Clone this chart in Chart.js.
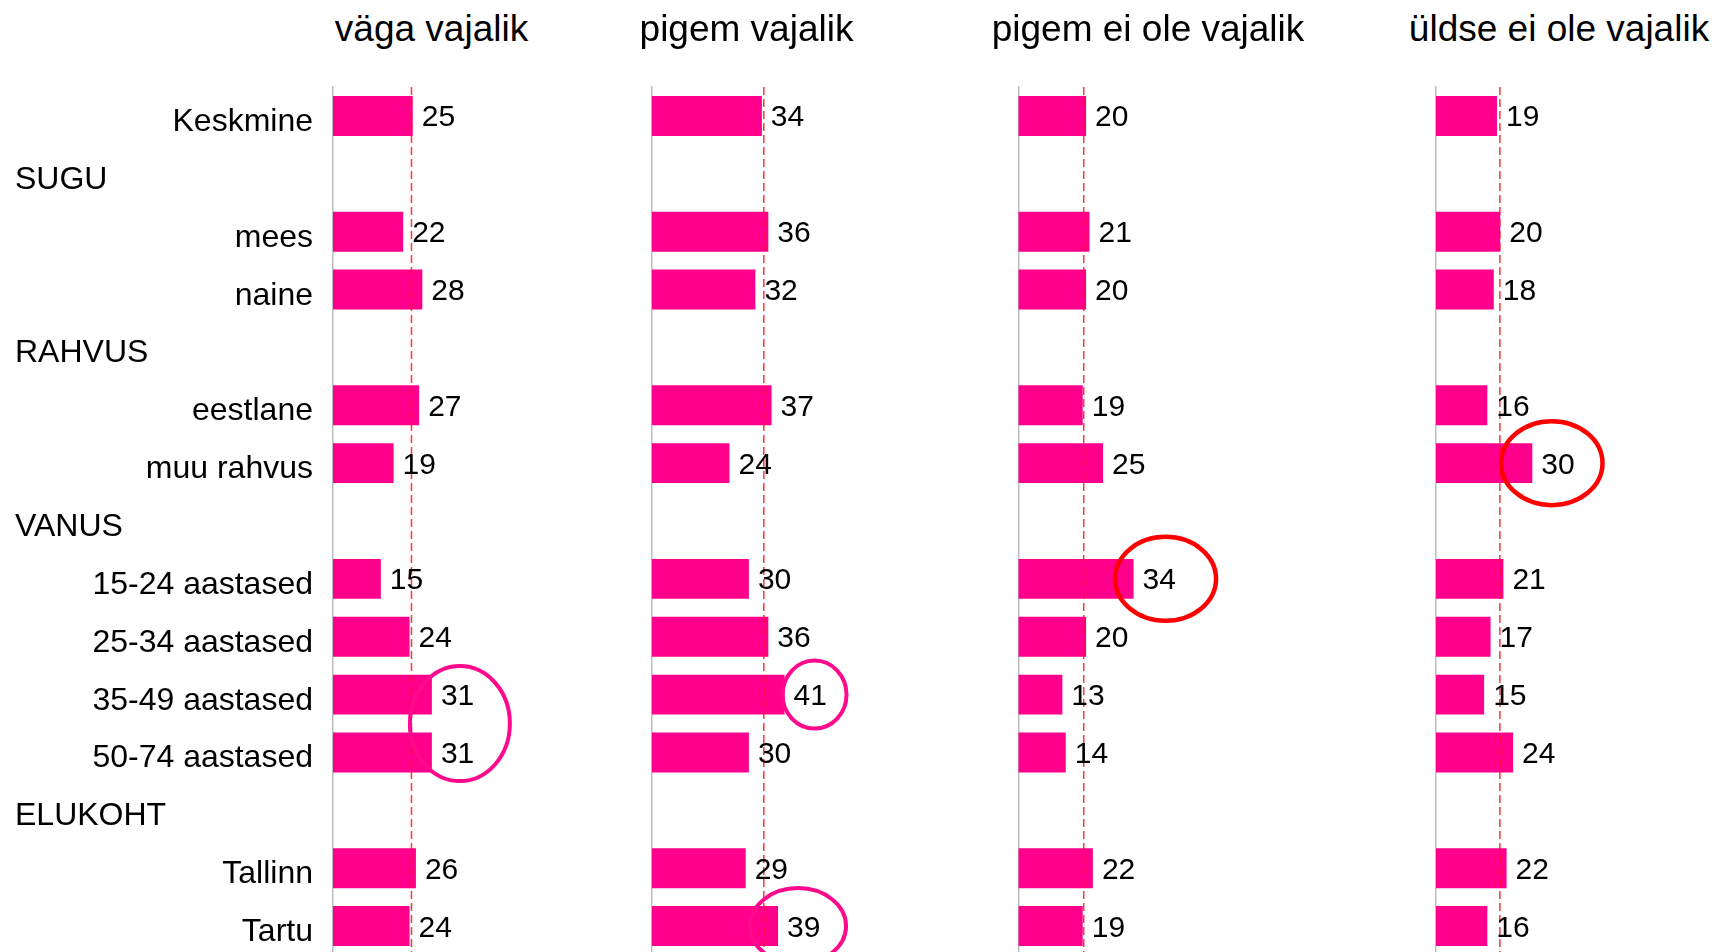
<!DOCTYPE html>
<html>
<head>
<meta charset="utf-8">
<script src="https://cdn.jsdelivr.net/npm/chart.js@4.4.1/dist/chart.umd.min.js"></script>
<style>
  html, body { margin: 0; padding: 0; background: #fff; }
  #wrap { position: relative; width: 1715px; height: 952px; overflow: hidden;
          font-family: "Liberation Sans", Arial, sans-serif; }
  #wrap canvas { position: absolute; top: 0; }
  .title { position: absolute; top: 10px; font-size: 37px; line-height: 37px;
           white-space: nowrap; transform: translateX(-50%); color: #000; }
</style>
</head>
<body>
<div id="wrap"></div>
<script>
// --- data ---
const panelTitles = ["väga vajalik", "pigem vajalik", "pigem ei ole vajalik", "üldse ei ole vajalik"];
const categories = ["Keskmine", "SUGU", "mees", "naine", "RAHVUS", "eestlane", "muu rahvus",
  "VANUS", "15-24 aastased", "25-34 aastased", "35-49 aastased", "50-74 aastased",
  "ELUKOHT", "Tallinn", "Tartu"];
const groupHeaders = ["SUGU", "RAHVUS", "VANUS", "ELUKOHT"];

const vagaVajalik     = [25, null, 22, 28, null, 27, 19, null, 15, 24, 31, 31, null, 26, 24];
const pigemVajalik    = [34, null, 36, 32, null, 37, 24, null, 30, 36, 41, 30, null, 29, 39];
const pigemEiOle      = [20, null, 21, 20, null, 19, 25, null, 34, 20, 13, 14, null, 22, 19];
const uldseEiOle      = [19, null, 20, 18, null, 16, 30, null, 21, 17, 15, 24, null, 22, 16];
const series = [vagaVajalik, pigemVajalik, pigemEiOle, uldseEiOle];

// dashed reference line (overall average) per panel
const averages = [24.6, 34.6, 19.3, 19.9];

// circled values: panel, first row, last row
const highlights = [
  { panel: 0, from: "35-49 aastased", to: "50-74 aastased", color: "#ff0a8c" },
  { panel: 1, from: "35-49 aastased", to: "35-49 aastased", color: "#ff0a8c" },
  { panel: 1, from: "Tartu", to: "Tartu", color: "#ff0a8c" },
  { panel: 2, from: "15-24 aastased", to: "15-24 aastased", color: "#ff0000" },
  { panel: 3, from: "muu rahvus", to: "muu rahvus", color: "#ff0000" }
];

// --- layout / style ---
const BAR_COLOR = "#ff008c";
const FONT = '"Liberation Sans", Arial, sans-serif';
const panels = [
  { left: 0,    width: 655, axisX: 333,    pxPerUnit: 3.19, titleX: 431.5 },
  { left: 600,  width: 400, axisX: 651.7,  pxPerUnit: 3.24, titleX: 746.5 },
  { left: 960,  width: 440, axisX: 1018.3, pxPerUnit: 3.39, titleX: 1148 },
  { left: 1380, width: 335, axisX: 1436,   pxPerUnit: 3.21, titleX: 1559 }
];
const X_MAX = 80;
const CANVAS_H = 955;
// ellipse sizes for each highlight (same order as highlights)
const ringStyle = [
  { dx: 28, rx: 50, ry: 57.5, lw: 4 },
  { dx: 30, rx: 32, ry: 34, lw: 4 },
  { dx: 20, rx: 48, ry: 38, lw: 4 },
  { dx: 32, rx: 50.5, ry: 42, lw: 4.5 },
  { dx: 19.5, rx: 50.7, ry: 42, lw: 4.5 }
];

const panelDecor = {
  id: "panelDecor",
  afterDatasetsDraw(chart, args, opts) {
    const ctx = chart.ctx;
    const xs = chart.scales.x, ys = chart.scales.y;
    const area = chart.chartArea;
    const data = chart.data.datasets[0].data;
    const meta = chart.getDatasetMeta(0);
    ctx.save();

    // average line
    const xm = xs.getPixelForValue(averages[opts.panel]);
    ctx.strokeStyle = "rgba(255,20,20,0.85)";
    ctx.lineWidth = 1.5;
    ctx.setLineDash([8, 4]);
    ctx.beginPath();
    ctx.moveTo(xm, area.top);
    ctx.lineTo(xm, area.bottom);
    ctx.stroke();
    ctx.setLineDash([]);

    // value labels
    ctx.font = "30px " + FONT;
    ctx.fillStyle = "#000";
    ctx.textAlign = "left";
    ctx.textBaseline = "alphabetic";
    meta.data.forEach((bar, i) => {
      if (data[i] == null) return;
      ctx.fillText(String(data[i]), bar.x + 9, bar.y + 10.5);
    });

    // category labels (first panel only)
    if (opts.panel === 0) {
      ctx.font = "32px " + FONT;
      categories.forEach((c, i) => {
        const y = ys.getPixelForValue(i) + 15;
        if (groupHeaders.includes(c)) {
          ctx.textAlign = "left";
          ctx.fillText(c, 15, y);
        } else {
          ctx.textAlign = "right";
          ctx.fillText(c, area.left - 20, y);
        }
      });
    }

    // circled values
    highlights.forEach((h, k) => {
      if (h.panel !== opts.panel) return;
      const s = ringStyle[k];
      const i1 = categories.indexOf(h.from), i2 = categories.indexOf(h.to);
      const v = Math.max(data[i1], data[i2]);
      const cx = xs.getPixelForValue(v) + s.dx;
      const cy = (ys.getPixelForValue(i1) + ys.getPixelForValue(i2)) / 2;
      ctx.strokeStyle = h.color;
      ctx.lineWidth = s.lw;
      ctx.beginPath();
      ctx.ellipse(cx, cy, s.rx, s.ry, 0, 0, Math.PI * 2);
      ctx.stroke();
    });
    ctx.restore();
  }
};

const wrap = document.getElementById("wrap");
panels.forEach((p, idx) => {
  const t = document.createElement("div");
  t.className = "title";
  t.style.left = p.titleX + "px";
  t.textContent = panelTitles[idx];
  wrap.appendChild(t);

  const cv = document.createElement("canvas");
  cv.width = p.width;
  cv.height = CANVAS_H;
  cv.style.left = p.left + "px";
  wrap.appendChild(cv);

  const padLeft = p.axisX - p.left;
  const padRight = p.width - padLeft - X_MAX * p.pxPerUnit;

  new Chart(cv.getContext("2d"), {
    type: "bar",
    data: {
      labels: categories,
      datasets: [{
        data: series[idx],
        backgroundColor: BAR_COLOR,
        borderWidth: 0,
        barPercentage: 0.69,
        categoryPercentage: 1
      }]
    },
    options: {
      indexAxis: "y",
      responsive: false,
      animation: false,
      devicePixelRatio: 1,
      layout: { padding: { left: padLeft, right: padRight, top: 87, bottom: 0 } },
      plugins: {
        legend: { display: false },
        tooltip: { enabled: false },
        panelDecor: { panel: idx }
      },
      scales: {
        x: { display: false, min: 0, max: X_MAX },
        y: {
          display: true,
          grid: { display: false, drawTicks: false },
          ticks: { display: false },
          border: { display: true, color: "#bdbdbd", width: 1.5 }
        }
      }
    },
    plugins: [panelDecor]
  });
});
</script>
</body>
</html>
